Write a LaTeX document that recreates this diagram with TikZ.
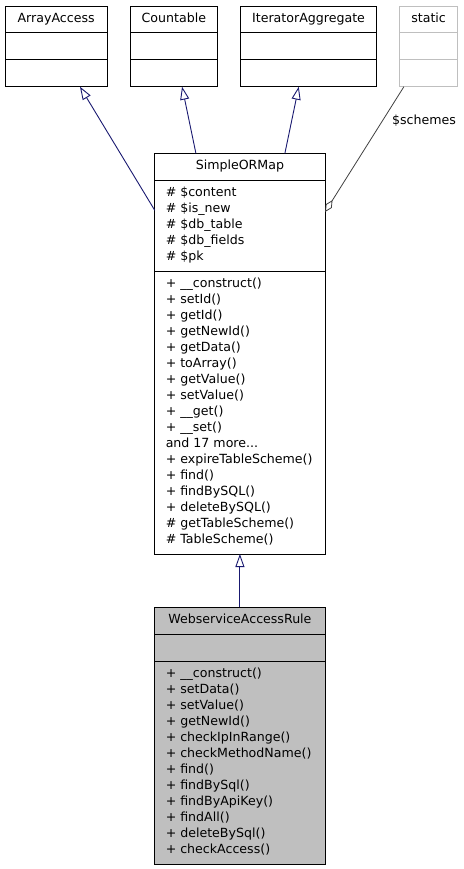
\documentclass[tikz,border=0pt]{standalone}
\usepackage{fontspec}
\setmainfont{DejaVu Sans}
\usetikzlibrary{arrows.meta, positioning, shapes.multipart}

\definecolor{edgeblue}{HTML}{191970}
\definecolor{lightgray}{HTML}{BFBFBF}
\definecolor{darkgray}{HTML}{404040}

\begin{document}
\begin{tikzpicture}[
    x=1pt, y=1pt,
    node distance=23.5pt,
    cls/.style={rectangle split, rectangle split parts=3, draw, line width=0.9pt,
                rectangle split part align={center,left,left}, align=left,
                inner xsep=11pt, inner ysep=5pt, outer sep=0pt,
                font=\fontsize{12.6}{16}\selectfont},
    inh/.style={-{Triangle[open, length=13pt, width=9pt]}, draw=edgeblue, line width=0.9pt},
    aggr/.style={-{Diamond[open, length=14pt, width=7pt]}, draw=darkgray, line width=0.8pt}
]
\useasboundingbox (0,0) rectangle (463,-869);

% Interfaces row
\node[cls, anchor=north west, minimum width=101.7pt] (arracc) at (5.3,-6)
    {\strut ArrayAccess\nodepart{second}\strut\nodepart{third}\strut};
\node[cls, right=of arracc, minimum width=86.7pt] (countable)
    {\strut Countable\nodepart{second}\strut\nodepart{third}\strut};
\node[cls, right=of countable, minimum width=135.7pt] (iteragg)
    {\strut IteratorAggregate\nodepart{second}\strut\nodepart{third}\strut};
\node[cls, right=of iteragg, draw=lightgray, minimum width=57.4pt] (static)
    {\strut static\nodepart{second}\strut\nodepart{third}\strut};

% Base class
\node[cls, anchor=north, minimum width=170.3pt] (ormap) at (239.9,-153.3)
    {\strut SimpleORMap
     \nodepart{second}
     \strut\# \$content\\
     \strut\# \$is\_new\\
     \strut\# \$db\_table\\
     \strut\# \$db\_fields\\
     \strut\# \$pk
     \nodepart{third}
     \strut+ \_\_construct()\\
     \strut+ setId()\\
     \strut+ getId()\\
     \strut+ getNewId()\\
     \strut+ getData()\\
     \strut+ toArray()\\
     \strut+ getValue()\\
     \strut+ setValue()\\
     \strut+ \_\_get()\\
     \strut+ \_\_set()\\
     \strut and 17 more...\\
     \strut+ expireTableScheme()\\
     \strut+ find()\\
     \strut+ findBySQL()\\
     \strut+ deleteBySQL()\\
     \strut\# getTableScheme()\\
     \strut\# TableScheme()};

% Derived class
\node[cls, below=53.3pt of ormap, fill=lightgray, minimum width=170.3pt] (wsrule)
    {\strut WebserviceAccessRule
     \nodepart{second}\strut
     \nodepart{third}
     \strut+ \_\_construct()\\
     \strut+ setData()\\
     \strut+ setValue()\\
     \strut+ getNewId()\\
     \strut+ checkIpInRange()\\
     \strut+ checkMethodName()\\
     \strut+ find()\\
     \strut+ findBySql()\\
     \strut+ findByApiKey()\\
     \strut+ findAll()\\
     \strut+ deleteBySql()\\
     \strut+ checkAccess()};

% Inheritance
\draw[inh] (wsrule.north) -- (ormap.south);
\draw[inh] ([yshift=-57pt]ormap.north west) -- ([xshift=23.8pt]arracc.south);
\draw[inh] ([xshift=-44pt]ormap.north) -- ([xshift=8.2pt]countable.south);
\draw[inh] ([xshift=45pt]ormap.north) -- ([xshift=-9.8pt]iteragg.south);

% Aggregation
\draw[aggr] ([xshift=-24.7pt]static.south) --
    node[pos=0.27, anchor=west, inner sep=0pt, xshift=9pt,
         font=\fontsize{12.6}{16}\selectfont] (schemes) {\$schemes}
    ([yshift=-58.7pt]ormap.north east);
\end{tikzpicture}
\end{document}
